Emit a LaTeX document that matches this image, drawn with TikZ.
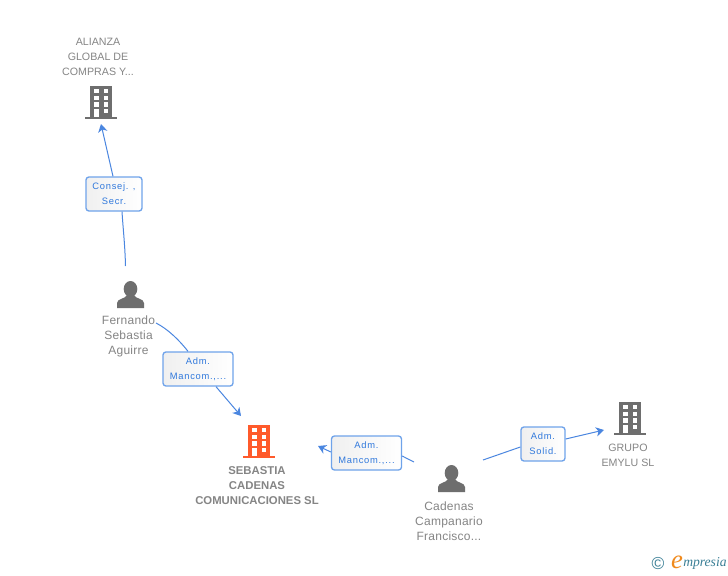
\documentclass[tikz,border=0pt]{standalone}
\usepackage{fontspec}
\setmainfont{Liberation Sans}
\newfontfamily\logofont[Ligatures=TeX]{Liberation Serif}
\usetikzlibrary{arrows.meta,positioning}
\definecolor{linkblue}{HTML}{4A86E0}
\definecolor{boxblue}{HTML}{6FA3EA}
\definecolor{rolblue}{HTML}{2F78DC}
\definecolor{icongray}{HTML}{6E6E6E}
\definecolor{textgray}{HTML}{858585}
\definecolor{mainred}{HTML}{FF5A2B}
\definecolor{logoteal}{HTML}{3A7F96}
\definecolor{logoorange}{HTML}{F08A1D}
\tikzset{
 >={Stealth[length=6pt,width=7pt,inset=1.8pt]},
 link/.style={draw=linkblue, line width=0.75pt},
 rol/.style={draw=boxblue, line width=1pt, rounded corners=2.2pt, left color=black!6, right color=white,
   text=rolblue, align=center, inner sep=0pt, font=\fontsize{7}{11.25}\selectfont\addfontfeature{LetterSpace=8}},
 person/.style={text=textgray, align=center, inner sep=0pt, font=\fontsize{9}{11.25}\selectfont\addfontfeature{LetterSpace=2}},
 company/.style={text=textgray, align=center, inner sep=0pt, font=\fontsize{8}{11.25}\selectfont},
 mainco/.style={text=textgray, align=center, inner sep=0pt, font=\fontsize{8.5}{11.25}\selectfont\bfseries},
 pics/buildingicon/.style={code={
   \fill[#1] (-11.3,-1.5) rectangle (11.3,-33.5);
   \fill[#1] (-16,0) rectangle (16,-2.5);
   \foreach \wy in {-30,-23.3,-16.7,-10} {
     \fill[white] (-6.7,\wy) rectangle ++(4.6,4.4);
     \fill[white] (2.5,\wy) rectangle ++(4.6,4.4);
   }
   \fill[white] (-6.7,-6) rectangle (-2.1,-2.5);
 }},
 pics/personicon/.style={code={
   \fill[icongray] (0,-19) ellipse (6.8 and 8);
   \fill[icongray] (-13.5,0) -- (-13.5,-5) .. controls (-13.5,-9.5) and (-5,-9) .. (-3.5,-13)
     -- (3.5,-13) .. controls (5,-9) and (13.5,-9.5) .. (13.5,-5) -- (13.5,0) -- cycle;
 }}
}
\begin{document}
\begin{tikzpicture}[x=0.75pt,y=-0.75pt]
\useasboundingbox (0,0) rectangle (728,575);
\fill[white] (0,0) rectangle (728,575);
% icons
\pic at (101,119) {buildingicon=icongray};
\pic at (630,435) {buildingicon=icongray};
\pic at (259,458) {buildingicon=mainred};
\pic at (130.5,308) {personicon};
\pic at (451.5,492) {personicon};
% nodes
\node[company] (alianza) at (98,57) {ALIANZA\\GLOBAL DE\\COMPRAS Y...};
\node[company] (grupo) at (628,455.5) {GRUPO\\EMYLU SL};
\node[mainco] (sebastia) at (257,485.8) {SEBASTIA\\CADENAS\\COMUNICACIONES SL};
\node[person] (fernando) at (128.5,336.5) {Fernando\\Sebastia\\Aguirre};
\node[person] (cadenas) at (449,521) {Cadenas\\Campanario\\Francisco...};
% role boxes
\node[rol, minimum width=42pt, minimum height=25.5pt] (consej) at (114,194) {Consej. ,\\Secr.};
\node[rol, minimum width=52.5pt, minimum height=25.5pt] (admfer) at (198,369) {Adm.\\Mancom.,...};
\node[rol, minimum width=52.5pt, minimum height=25.5pt] (admcad) at (366.5,453) {Adm.\\Mancom.,...};
\node[rol, minimum width=33pt, minimum height=25.5pt] (admsol) at (543,444) {Adm.\\Solid.};
% free ends
\coordinate (ferup) at (125.5,266);
\coordinate (ferdown) at (156,323);
\coordinate (cadleft) at (414,462);
\coordinate (cadright) at (483,460);
\coordinate (alianzain) at (101,124);
\coordinate (mainin) at (241,416);
\coordinate (mainside) at (318,446);
\coordinate (grupoin) at (604,430);
% edges
\draw[link] (ferup) .. controls (125,245) and (123,228) .. (consej.south -| 122,0);
\draw[link,->] (consej.north -| 113,0) -- (alianzain);
\draw[link] (ferdown) .. controls (168,329) and (180,341) .. (admfer.north -| 188,0);
\draw[link,->] (admfer.south -| 216,0) -- (mainin);
\draw[link] (cadleft) -- (admcad.east |- 0,456);
\draw[link,->] (admcad.west |- 0,452) -- (mainside);
\draw[link] (cadright) -- (admsol.west |- 0,447);
\draw[link,->] (admsol.east |- 0,439) -- (grupoin);
% logo
\node[text=logoteal, inner sep=0pt, font=\fontsize{13}{13}\selectfont] (copy) at (658,564) {©};
\node[text=logoorange, inner sep=0pt, font=\logofont\itshape\fontsize{20}{20}\selectfont] (logoe) at (677,562) {e};
\node[text=logoteal, inner sep=0pt, anchor=west, font=\logofont\itshape\fontsize{10.2}{10.2}\selectfont] (logotext) at (683,563.5) {mpresia};
\end{tikzpicture}
\end{document}
